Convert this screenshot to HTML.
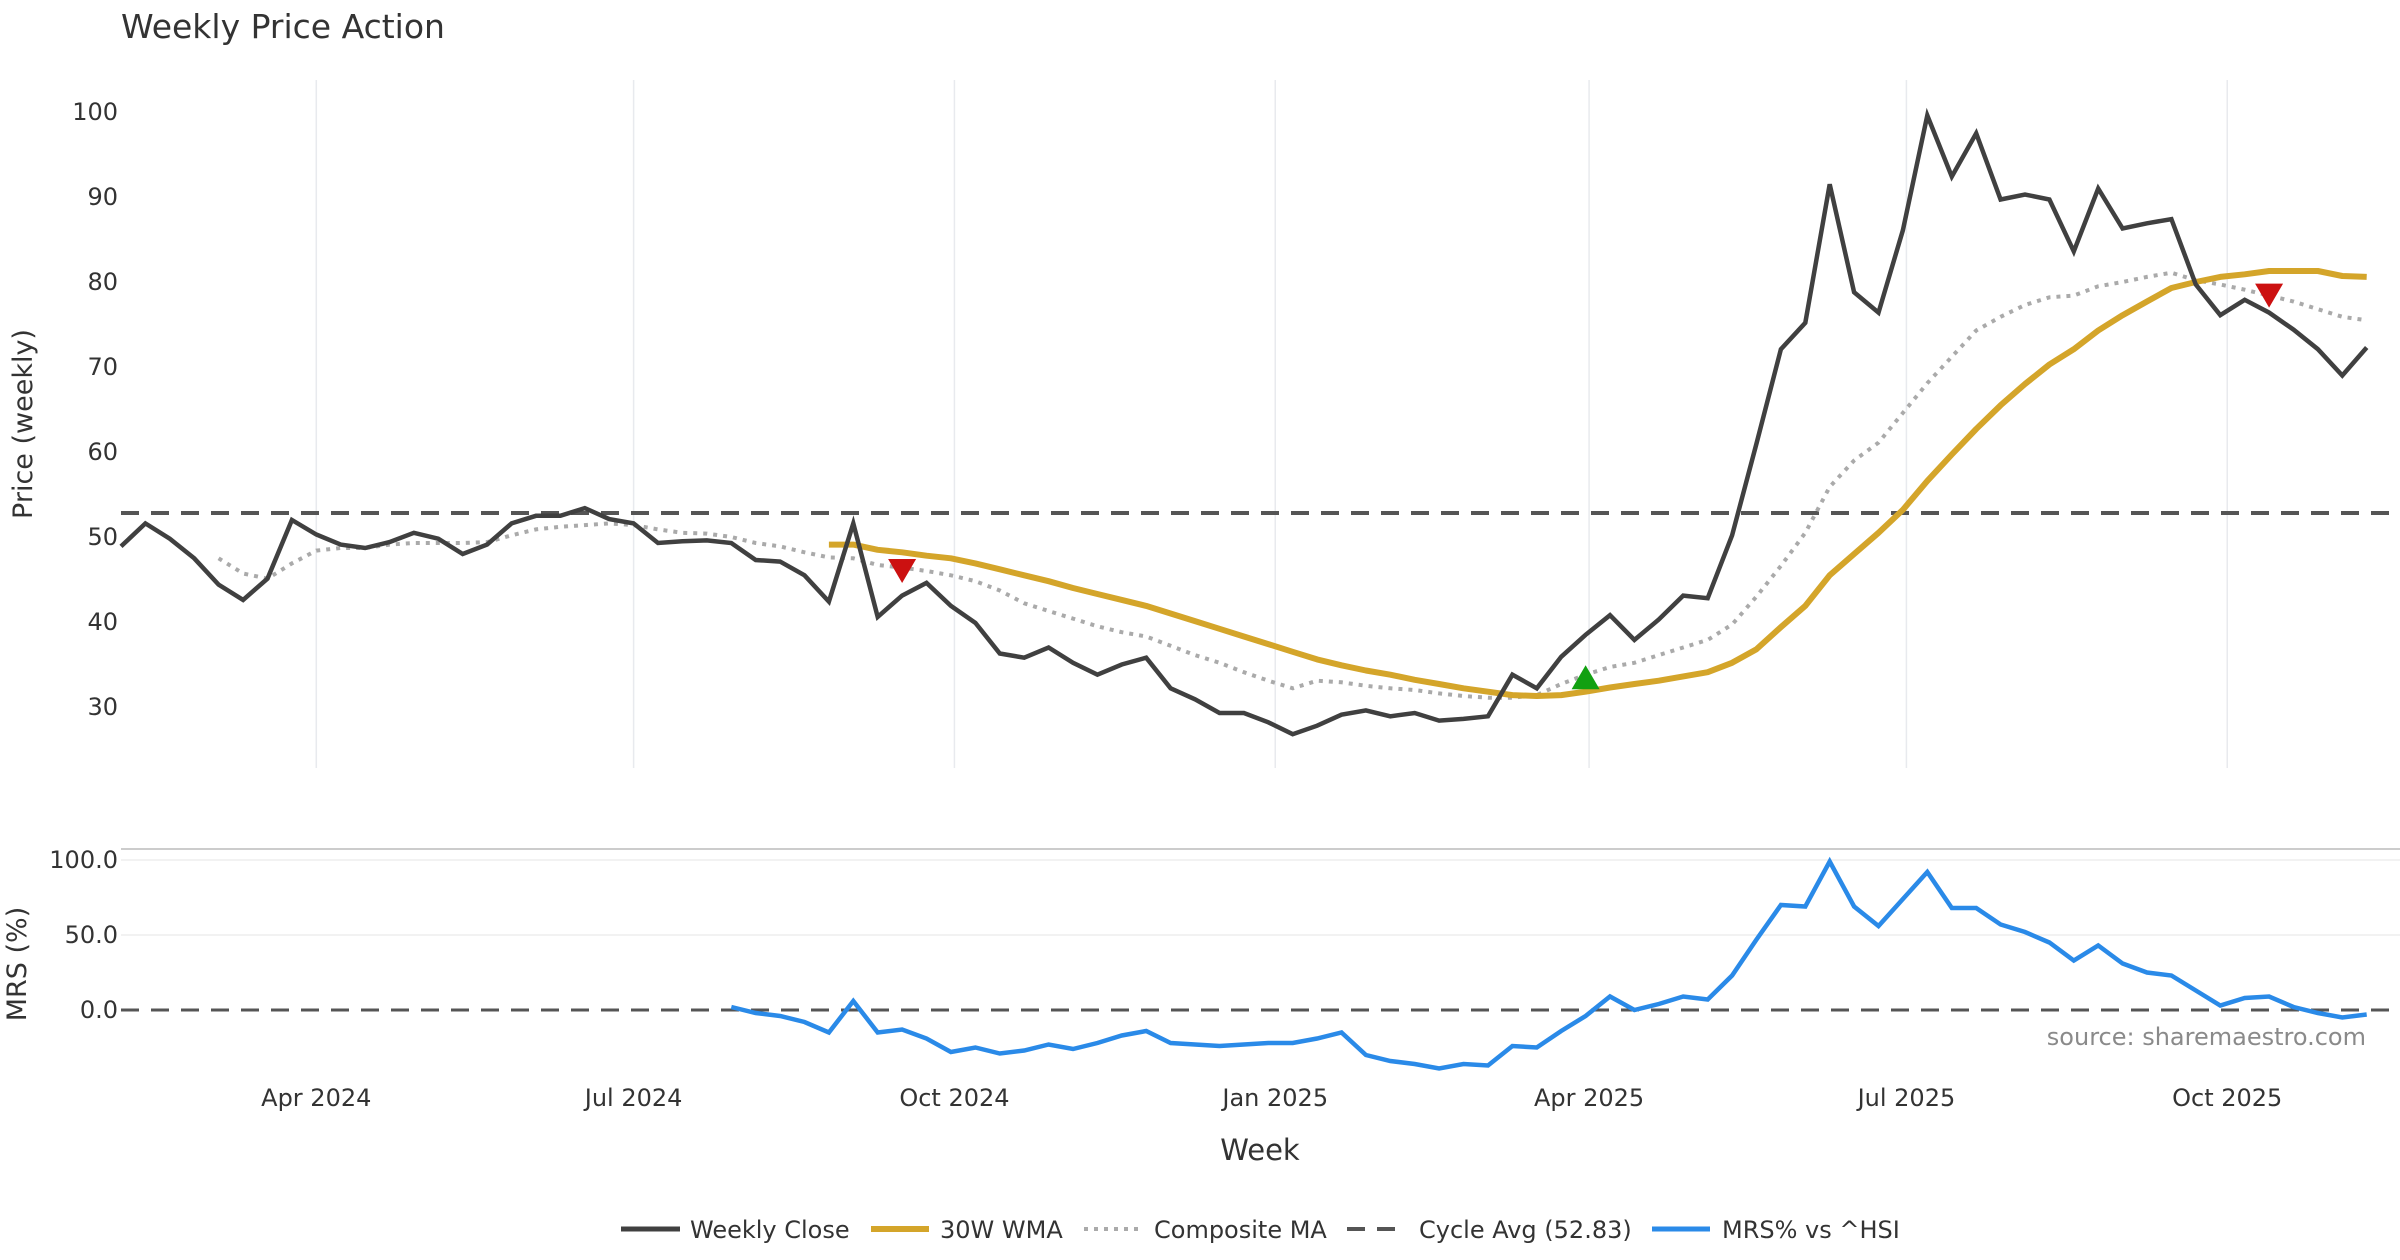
<!DOCTYPE html>
<html><head><meta charset="utf-8">
<style>
html,body{margin:0;padding:0;background:#fff;}
svg{display:block;font-family:"DejaVu Sans","Liberation Sans",sans-serif;}
</style></head>
<body>
<svg id="chart" width="2400" height="1260" viewBox="0 0 2400 1260" xmlns="http://www.w3.org/2000/svg">
<text x="121" y="38" font-size="33" fill="#333">Weekly Price Action</text>
<g id="grid"></g>
<g id="axes"></g>
<g id="series"></g>
<text transform="translate(32,424) rotate(-90)" text-anchor="middle" font-size="27" fill="#333">Price (weekly)</text>
<text transform="translate(26,964) rotate(-90)" text-anchor="middle" font-size="27" fill="#333">MRS (%)</text>
<text x="1260" y="1160" text-anchor="middle" font-size="29" fill="#333">Week</text>
<text x="2366" y="1045" text-anchor="end" font-size="24" fill="#8a8a8a">source: sharemaestro.com</text>
<g id="legend">
  <g><line x1="621" y1="1229" x2="680" y2="1229" stroke="#404040" stroke-width="5"/><text x="690" y="1238" font-size="24" fill="#333">Weekly Close</text></g>
  <g><line x1="871" y1="1229" x2="929" y2="1229" stroke="#d4a52a" stroke-width="6"/><text x="940" y="1238" font-size="24" fill="#333">30W WMA</text></g>
  <g><line x1="1084" y1="1229" x2="1142" y2="1229" stroke="#aaaaaa" stroke-width="4" stroke-dasharray="4 6"/><text x="1154" y="1238" font-size="24" fill="#333">Composite MA</text></g>
  <g><line x1="1347" y1="1229" x2="1405" y2="1229" stroke="#555" stroke-width="4" stroke-dasharray="18 12"/><text x="1419" y="1238" font-size="24" fill="#333">Cycle Avg (52.83)</text></g>
  <g><line x1="1652" y1="1229" x2="1710" y2="1229" stroke="#2a8ae8" stroke-width="5"/><text x="1722" y="1238" font-size="24" fill="#333">MRS% vs ^HSI</text></g>
</g>
</svg>
<script>
const closeVals=[48.9,51.6,49.8,47.5,44.4,42.6,45.1,52.0,50.3,49.1,48.7,49.4,50.5,49.8,48.0,49.1,51.6,52.5,52.5,53.4,52.1,51.6,49.3,49.5,49.6,49.3,47.3,47.1,45.5,42.4,51.6,40.6,43.1,44.6,41.9,39.9,36.3,35.8,37.0,35.2,33.8,35.0,35.8,32.2,30.9,29.3,29.3,28.2,26.8,27.8,29.1,29.6,28.9,29.3,28.4,28.6,28.9,33.8,32.2,35.9,38.5,40.8,37.9,40.3,43.1,42.8,50.2,61.0,72.1,75.2,91.5,78.8,76.4,86.1,99.6,92.4,97.5,89.7,90.3,89.7,83.6,91.0,86.3,86.9,87.4,79.7,76.1,77.9,76.4,74.4,72.1,69.0,72.3];
const wmaStart=29;
const wmaVals=[49.1,49.1,48.5,48.2,47.8,47.5,46.9,46.2,45.5,44.8,44.0,43.3,42.6,41.9,41.0,40.1,39.2,38.3,37.4,36.5,35.6,34.9,34.3,33.8,33.2,32.7,32.2,31.8,31.4,31.3,31.4,31.8,32.3,32.7,33.1,33.6,34.1,35.2,36.8,39.4,41.9,45.5,48.0,50.5,53.2,56.6,59.7,62.7,65.5,68.0,70.3,72.1,74.3,76.1,77.7,79.3,80.0,80.6,80.9,81.3,81.3,81.3,80.7,80.6];
const compStart=4;
const compVals=[47.5,45.7,45.1,46.9,48.4,48.7,48.7,49.1,49.3,49.3,49.3,49.4,50.2,50.9,51.2,51.4,51.6,51.4,50.9,50.5,50.4,50.0,49.3,48.9,48.2,47.6,47.5,46.7,46.4,46.0,45.5,44.8,43.7,42.2,41.3,40.4,39.5,38.8,38.3,37.2,36.1,35.2,34.1,33.1,32.2,33.1,32.9,32.5,32.2,32.0,31.6,31.3,31.1,31.1,31.4,32.7,33.8,34.7,35.2,36.1,37.0,37.9,39.7,43.0,46.6,50.5,55.9,59.0,61.1,64.6,68.1,71.2,74.3,75.9,77.3,78.2,78.4,79.5,80.0,80.6,81.1,80.2,79.7,79.1,78.4,77.7,76.8,75.9,75.5];
const mrsStart=25;
const mrsVals=[2,-2,-4,-8,-15,6,-15,-13,-19,-28,-25,-29,-27,-23,-26,-22,-17,-14,-22,-23,-24,-23,-22,-22,-19,-15,-30,-34,-36,-39,-36,-37,-24,-25,-14,-4,9,0,4,9,7,23,47,70,69,99,69,56,74,92,68,68,57,52,45,33,43,31,25,23,13,3,8,9,2,-2,-5,-3];
const cycleAvg=52.83;
const sellSignals=[{i:32,v:46.0},{i:88,v:78.4}];
const buySignals=[{i:60,v:33.5}];
const priceTicks=[30,40,50,60,70,80,90,100];
const mrsTicks=[0,50,100];
const mrsTickLabels=["0.0","50.0","100.0"];
const xTickDates=["2024-04-01","2024-07-01","2024-10-01","2025-01-01","2025-04-01","2025-07-01","2025-10-01"];
const xTickLabels=["Apr 2024","Jul 2024","Oct 2024","Jan 2025","Apr 2025","Jul 2025","Oct 2025"];
const startDate="2024-02-05";

const NS="http://www.w3.org/2000/svg";
const X0=121, STEP=24.41;
function xi(i){return X0+i*STEP;}
function xDate(s){const w=(new Date(s)-new Date(startDate))/(7*864e5);return X0+w*STEP;}
function yP(v){return 112+(100-v)*8.5;}
function yM(v){return 1010-v*1.5;}
function mk(tag,attrs,parent){const e=document.createElementNS(NS,tag);for(const k in attrs)e.setAttribute(k,attrs[k]);parent.appendChild(e);return e;}
const grid=document.getElementById('grid'),axes=document.getElementById('axes'),ser=document.getElementById('series');

xTickDates.forEach((d,k)=>{
  const x=xDate(d);
  const g=mk('line',{x1:x,y1:80,x2:x,y2:768,stroke:'#e8eaee','stroke-width':1.5},grid);
  
  
  const t=mk('text',{x:x,y:1106,'text-anchor':'middle','font-size':24,fill:'#333'},axes);
  t.textContent=xTickLabels[k];
  
  
});
priceTicks.forEach(v=>{
  const t=mk('text',{x:118,y:yP(v)+8,'text-anchor':'end','font-size':24,fill:'#333'},axes);
  t.textContent=v;
  
  
});
const sep=mk('line',{x1:121,y1:849,x2:2400,y2:849,stroke:'#cccccc','stroke-width':2},grid);


mrsTicks.forEach((v,k)=>{
  if(v!==0){const l=mk('line',{x1:121,y1:yM(v),x2:2400,y2:yM(v),stroke:'#eeeeee','stroke-width':1.5},grid);
  
  }
  const t=mk('text',{x:118,y:yM(v)+8,'text-anchor':'end','font-size':24,fill:'#333'},axes);
  t.textContent=mrsTickLabels[k];
  
  
});
const ca=mk('line',{x1:121,y1:yP(cycleAvg),x2:2400,y2:yP(cycleAvg),stroke:'#555','stroke-width':4,'stroke-dasharray':'18 12'},ser);


const z=mk('line',{x1:121,y1:yM(0),x2:2400,y2:yM(0),stroke:'#555','stroke-width':3,'stroke-dasharray':'18 12'},ser);



function pts(vals,start,yf){return vals.map((v,k)=>xi(start+k).toFixed(1)+','+yf(v).toFixed(1)).join(' ');}
const comp=mk('polyline',{points:pts(compVals,compStart,yP),fill:'none',stroke:'#aaaaaa','stroke-width':4,'stroke-dasharray':'4 6'},ser);


const wma=mk('polyline',{points:pts(wmaVals,wmaStart,yP),fill:'none',stroke:'#d4a52a','stroke-width':6,'stroke-linejoin':'round'},ser);


const cl=mk('polyline',{points:pts(closeVals,0,yP),fill:'none',stroke:'#404040','stroke-width':4.5,'stroke-linejoin':'miter'},ser);


const mr=mk('polyline',{points:pts(mrsVals,mrsStart,yM),fill:'none',stroke:'#2a8ae8','stroke-width':4.5},ser);


sellSignals.forEach(s=>{
  const x=xi(s.i),y=yP(s.v);
  const p=mk('polygon',{points:`${x-14},${y-12} ${x+14},${y-12} ${x},${y+12}`,fill:'#cc1111'},ser);
  
  
});
buySignals.forEach(s=>{
  const x=xi(s.i),y=yP(s.v);
  const p=mk('polygon',{points:`${x-14},${y+12} ${x+14},${y+12} ${x},${y-12}`,fill:'#11a011'},ser);
  
  
});
</script>
</body></html>
